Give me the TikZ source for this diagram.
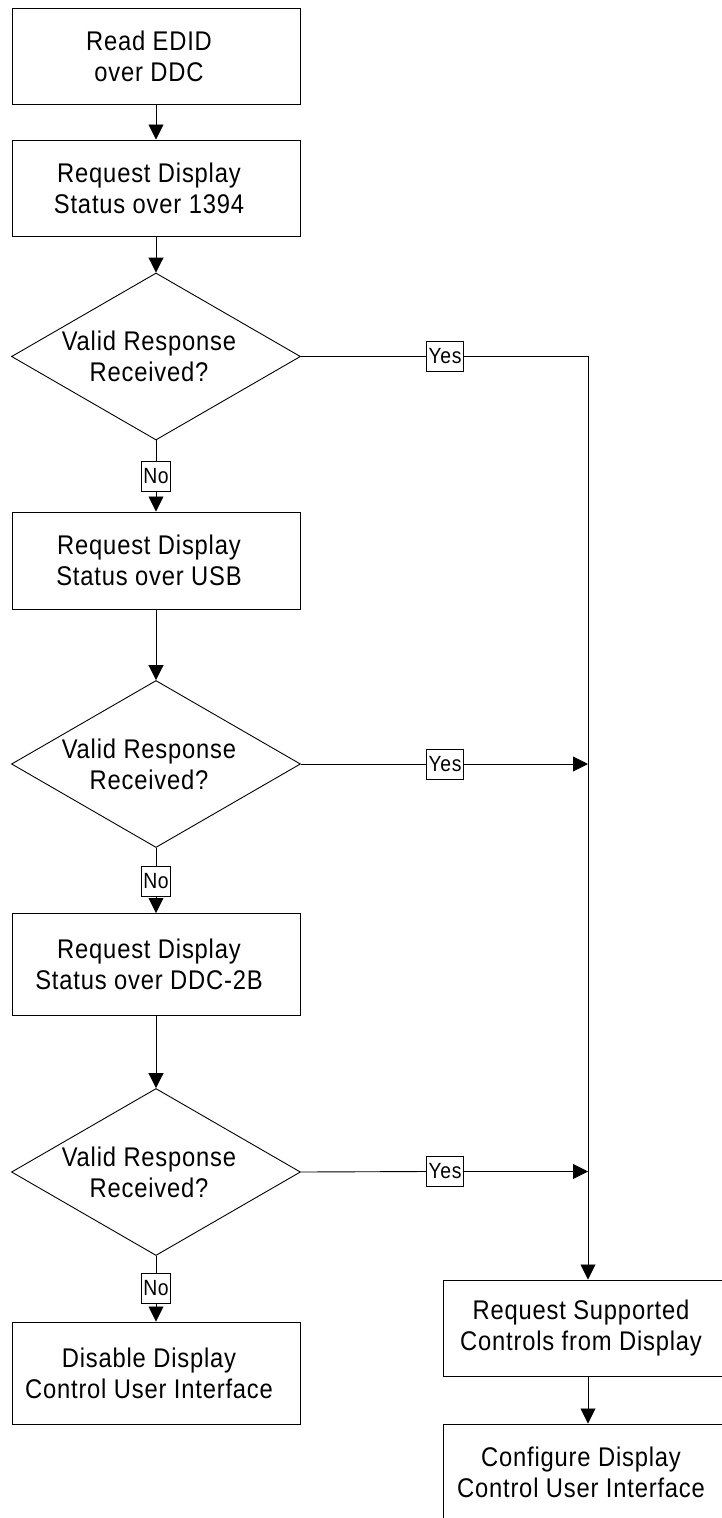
\documentclass[tikz,border=0pt]{standalone}
\usepackage{fontspec}
\setmainfont{Liberation Sans}[FakeStretch=0.88, LetterSpace=3]
\usetikzlibrary{shapes.geometric,arrows.meta}
\newcommand{\mline}[1]{#1\hspace*{14pt}}
\begin{document}
\begin{tikzpicture}[x=1pt,y=-1pt,
  every node/.style={font=\fontsize{27}{31}\selectfont},
  box/.style={draw, line width=1pt, minimum width=288pt, align=center, inner sep=0pt, fill=white},
  dia/.style={draw, line width=0.9pt, diamond, minimum width=289pt, minimum height=167pt, inner sep=0pt},
  dtxt/.style={align=center, inner sep=0pt},
  lab/.style={draw, line width=0.8pt, fill=white, font=\fontsize{22}{24}\selectfont, minimum height=30pt, inner xsep=2pt, inner ysep=0pt},
  conn/.style={line width=0.9pt},
  arr/.style={conn, -{Triangle[length=15pt,width=15pt]}}
]
\useasboundingbox (0,0) rectangle (722,1518);
\clip (0,0) rectangle (722,1518);

% left column
\node[box, minimum height=96pt] (b1) at (156,56) {\mline{Read EDID}\\\mline{over DDC}};
\node[box, minimum height=96pt] (b2) at (156,188) {\mline{Request Display}\\\mline{Status over 1394}};
\node[dia] (d1) at (156,356.5) {};
\node[dtxt] (t1) at (149,356.5) {Valid Response\\Received?};
\node[lab] (n1) at (156,476.5) {No};
\node[box, minimum height=97pt] (b3) at (156,560.5) {\mline{Request Display}\\\mline{Status over USB}};
\node[dia] (d2) at (156,764) {};
\node[dtxt] (t2) at (149,764) {Valid Response\\Received?};
\node[lab] (n2) at (156,881) {No};
\node[box, minimum height=102pt] (b4) at (156,964.5) {\mline{Request Display}\\\mline{Status over DDC-2B}};
\node[dia] (d3) at (156,1172) {};
\node[dtxt] (t3) at (149,1172) {Valid Response\\Received?};
\node[lab] (n3) at (156,1288.5) {No};
\node[box, minimum height=102pt] (b6) at (156,1373) {\mline{Disable Display}\\\mline{Control User Interface}};

% right column
\node[box, minimum width=290pt, minimum height=96pt] (b5) at (588,1328) {\mline{Request Supported}\\\mline{Controls from Display}};
\node[box, minimum width=290pt, minimum height=96pt] (b7) at (588,1472) {\mline{Configure Display}\\\mline{Control User Interface}};

% yes labels and junctions
\node[lab] (y1) at (445,356.5) {Yes};
\node[lab] (y2) at (445,764) {Yes};
\node[lab] (y3) at (445,1171.5) {Yes};
\coordinate (r1) at (588,356.5);
\coordinate (j2) at (588,764);
\coordinate (j3) at (588,1171.5);

% connectors
\draw[arr] (b1.south) -- (b2.north);
\draw[arr] (b2.south) -- (d1.north);
\draw[conn] (d1.south) -- (n1.north);
\draw[arr] (n1.south) -- (b3.north);
\draw[arr] (b3.south) -- (d2.north);
\draw[conn] (d2.south) -- (n2.north);
\draw[arr] (n2.south) -- (b4.north);
\draw[arr] (b4.south) -- (d3.north);
\draw[conn] (d3.south) -- (n3.north);
\draw[arr] (n3.south) -- (b6.north);

\draw[conn] (d1.east) -- (y1.west);
\draw[arr] (y1.east) -- (r1) -- (b5.north);
\draw[conn] (d2.east) -- (y2.west);
\draw[arr] (y2.east) -- (j2);
\draw[conn] (d3.east) -- (y3.west);
\draw[arr] (y3.east) -- (j3);
\draw[arr] (b5.south) -- (b7.north);
\end{tikzpicture}
\end{document}
